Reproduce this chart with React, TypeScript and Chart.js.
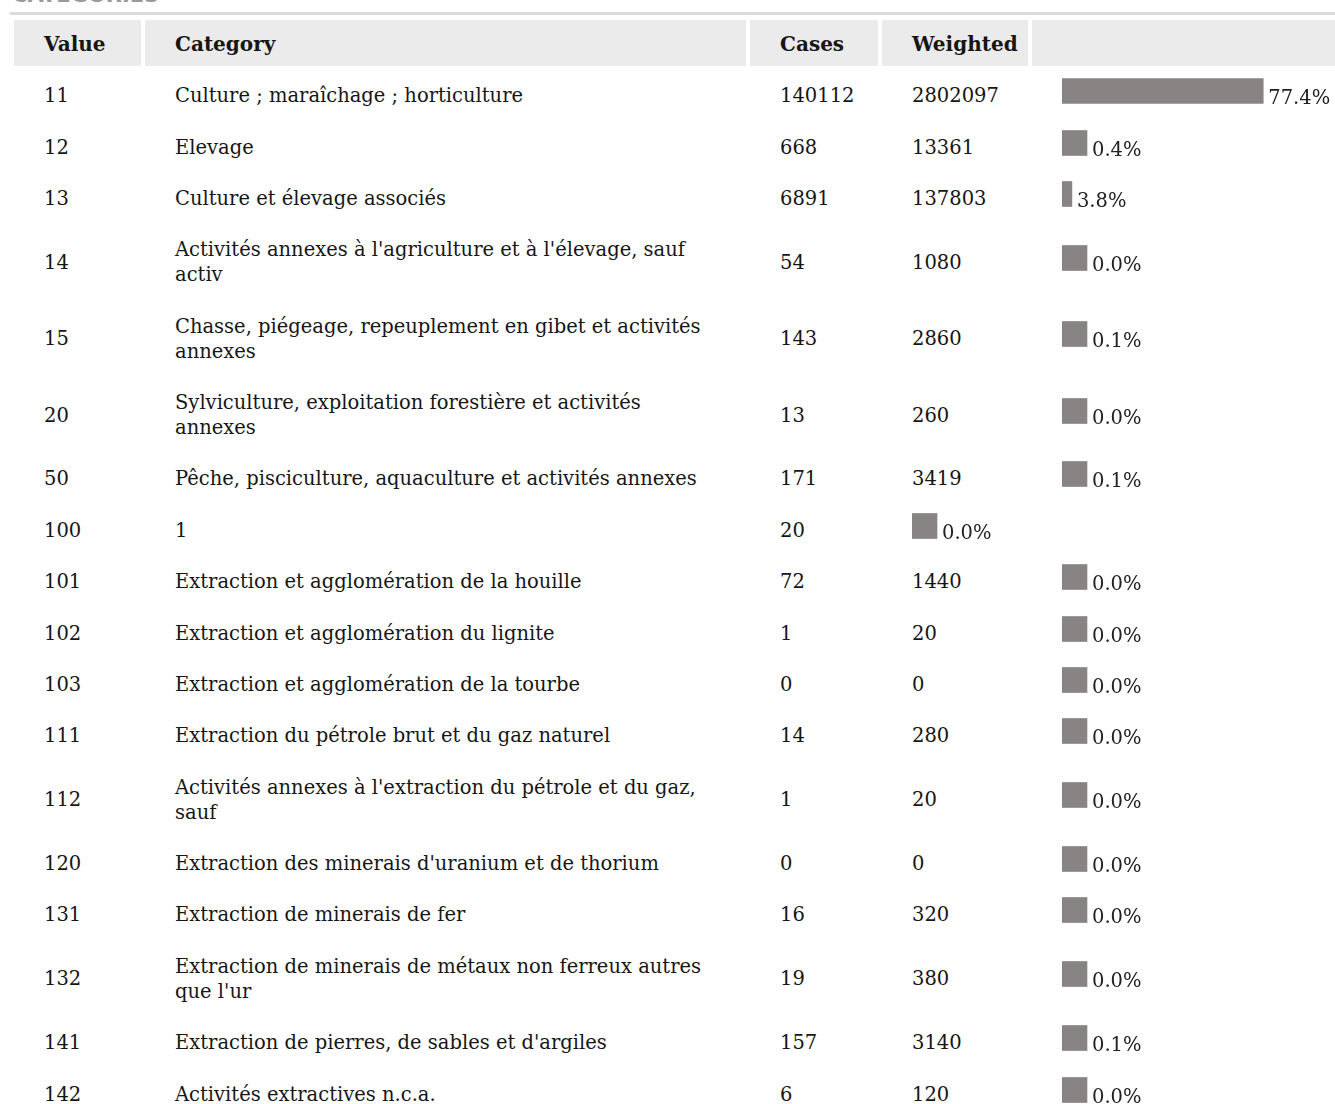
import React, { useEffect, useRef } from "react";
import { Chart, registerables } from "chart.js";

Chart.register(...registerables);

const valueCodes = ["11", "12", "13", "14", "15", "20", "50", "100", "101", "102", "103", "111", "112", "120", "131", "132", "141", "142"];
const categories = [
  "Culture ; maraîchage ; horticulture",
  "Elevage",
  "Culture et élevage associés",
  "Activités annexes à l'agriculture et à l'élevage, sauf activ",
  "Chasse, piégeage, repeuplement en gibet et activités annexes",
  "Sylviculture, exploitation forestière et activités annexes",
  "Pêche, pisciculture, aquaculture et activités annexes",
  "1",
  "Extraction et agglomération de la houille",
  "Extraction et agglomération du lignite",
  "Extraction et agglomération de la tourbe",
  "Extraction du pétrole brut et du gaz naturel",
  "Activités annexes à l'extraction du pétrole et du gaz, sauf",
  "Extraction des minerais d'uranium et de thorium",
  "Extraction de minerais de fer",
  "Extraction de minerais de métaux non ferreux autres que l'ur",
  "Extraction de pierres, de sables et d'argiles",
  "Activités extractives n.c.a.",
];
const cases = [140112, 668, 6891, 54, 143, 13, 171, 20, 72, 1, 0, 14, 1, 0, 16, 19, 157, 6];
const weighted: (number | null)[] = [2802097, 13361, 137803, 1080, 2860, 260, 3419, null, 1440, 20, 0, 280, 20, 0, 320, 380, 3140, 120];
const percents = [77.4, 0.4, 3.8, 0.0, 0.1, 0.0, 0.1, 0.0, 0.0, 0.0, 0.0, 0.0, 0.0, 0.0, 0.0, 0.0, 0.1, 0.0];
const headers = ["Value", "Category", "Cases", "Weighted", ""];

const FONT = "'DejaVu Serif'";
const BAR_COLOR = "#888484";

const labelPlugin = {
  id: "pctLabel",
  afterDatasetsDraw(chart: any) {
    const ctx = chart.ctx;
    const meta = chart.getDatasetMeta(0);
    meta.data.forEach((el: any, i: number) => {
      const v = chart.data.datasets[0].data[i] as number;
      const props = el.getProps(["x", "y", "height"], true);
      ctx.save();
      ctx.font = `19.5px ${FONT}`;
      ctx.fillStyle = "#222";
      ctx.textAlign = "left";
      ctx.textBaseline = "alphabetic";
      ctx.fillText(v.toFixed(1) + "%", props.x + 5, props.y + props.height / 2);
      ctx.restore();
    });
  },
};

function BarCell({ pct }: { pct: number }) {
  const ref = useRef<HTMLCanvasElement>(null);
  useEffect(() => {
    if (!ref.current) return;
    const chart = new Chart(ref.current, {
      type: "bar",
      data: {
        labels: [""],
        datasets: [
          {
            data: [pct],
            backgroundColor: BAR_COLOR,
            borderWidth: 0,
            barThickness: 25,
            minBarLength: pct < 1 ? 25 : 0,
          },
        ],
      },
      options: {
        indexAxis: "y",
        responsive: false,
        animation: false,
        devicePixelRatio: 1,
        layout: { padding: { left: 0, right: 70, top: 0, bottom: 0 } },
        plugins: { legend: { display: false }, tooltip: { enabled: false } },
        scales: {
          x: { display: false, min: 0, max: 100 },
          y: { display: false },
        },
      },
      plugins: [labelPlugin],
    });
    return () => chart.destroy();
  }, [pct]);
  return (
    <div style={{ position: "relative", height: 25 }}>
      <canvas ref={ref} width={330} height={30} style={{ position: "absolute", left: 0, top: -7, width: 330, height: 30 }} />
    </div>
  );
}

const colWidths = [127, 601, 128, 146, 420];

export default function App() {
  const cell: React.CSSProperties = {
    padding: "13.2px 30px 9.2px 30px",
    lineHeight: "25px",
    verticalAlign: "middle",
    textAlign: "left",
    boxSizing: "border-box",
    color: "#161616",
  };
  const catCell: React.CSSProperties = { ...cell, paddingRight: 34 };
  const head: React.CSSProperties = {
    ...cell,
    background: "#ebebeb",
    fontWeight: "bold",
    fontSize: 20,
    height: 46,
    padding: "2px 0 0 30px",
  };
  return (
    <div style={{ position: "absolute", left: 0, top: 0, width: 1335, height: 1104, overflow: "hidden", background: "#fff", fontFamily: FONT, fontSize: 19.5 }}>
      <div style={{ position: "absolute", left: 12, top: -15, fontFamily: "'DejaVu Sans'", fontWeight: "bold", fontSize: 21, lineHeight: "21px", color: "#9a9a9a" }}>
        CATEGORIES
      </div>
      <div style={{ position: "absolute", left: 10, right: 0, top: 12, height: 3, background: "#dcdcdc" }} />
      <table style={{ position: "absolute", left: 10, top: 16, borderCollapse: "separate", borderSpacing: 4, tableLayout: "fixed", width: colWidths.reduce((a, b) => a + b, 0) + 4 * 6 }}>
        <colgroup>
          {colWidths.map((w, i) => (
            <col key={i} style={{ width: w }} />
          ))}
        </colgroup>
        <thead>
          <tr>
            {headers.map((h, i) => (
              <th key={i} style={head}>
                {h}
              </th>
            ))}
          </tr>
        </thead>
        <tbody>
          {valueCodes.map((v, i) => (
            <tr key={v}>
              <td style={cell}>{v}</td>
              <td style={catCell}>{categories[i]}</td>
              <td style={cell}>{cases[i]}</td>
              {weighted[i] === null ? (
                <>
                  <td style={cell}>
                    <BarCell pct={percents[i]} />
                  </td>
                  <td style={cell}></td>
                </>
              ) : (
                <>
                  <td style={cell}>{weighted[i]}</td>
                  <td style={cell}>
                    <BarCell pct={percents[i]} />
                  </td>
                </>
              )}
            </tr>
          ))}
        </tbody>
      </table>
    </div>
  );
}
